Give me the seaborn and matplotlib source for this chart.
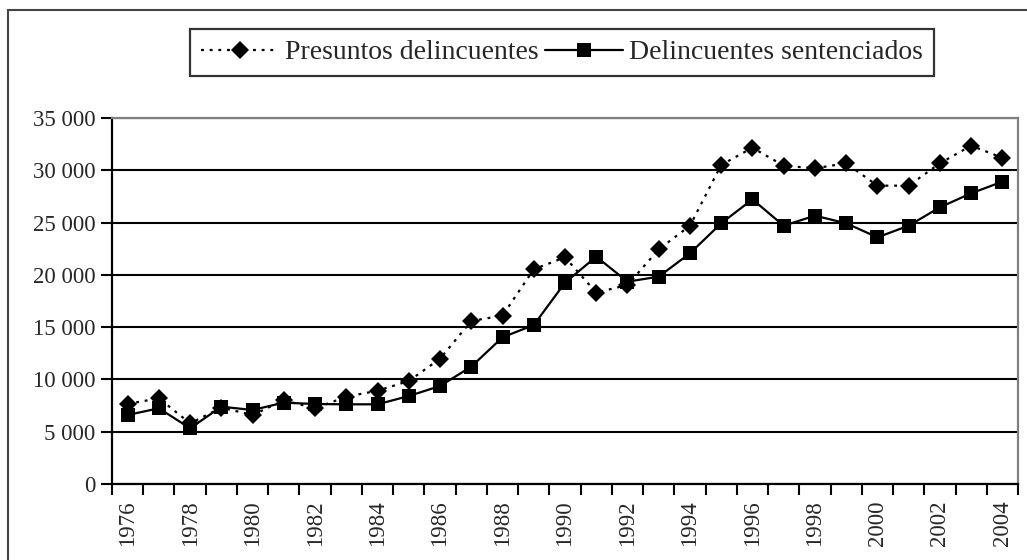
import matplotlib
matplotlib.use("Agg")
import matplotlib.pyplot as plt
from matplotlib.patches import Rectangle
from matplotlib.ticker import FuncFormatter, MultipleLocator
import seaborn as sns
import pandas as pd

years = list(range(1976, 2005))
presuntos = [7650, 8200, 5800, 7300, 6600, 8000, 7240, 8350, 8920, 9850,
             11980, 15590, 16100, 20530, 21680, 18300, 19030, 22440, 24700, 30510,
             32160, 30440, 30190, 30670, 28530, 28530, 30670, 32350, 31200]
sentenciados = [6600, 7240, 5330, 7390, 7080, 7780, 7650, 7620, 7620, 8415,
                9370, 11220, 14030, 15200, 19250, 21740, 19350, 19830, 22060, 24930,
                27220, 24700, 25660, 24930, 23590, 24700, 26460, 27800, 28910]
series_names = ["Presuntos delincuentes", "Delincuentes sentenciados"]

df = pd.DataFrame({"year": years + years,
                   "value": presuntos + sentenciados,
                   "serie": [series_names[0]] * len(years) + [series_names[1]] * len(years)})

sns.set_theme(style="white")
plt.rcParams["font.family"] = ["Liberation Serif", "DejaVu Serif"]

fig = plt.figure(figsize=(10.27, 5.6), dpi=100)
ax = fig.add_axes([112 / 1027, 1 - 484 / 560, (1018 - 112) / 1027, (484 - 118) / 560])

# outer frame of the chart
fig.patches.append(Rectangle((8 / 1027, -0.1), 1.2, 1 - 10 / 560 + 0.1, transform=fig.transFigure,
                             fill=False, edgecolor="#444444", linewidth=1.5, zorder=0))

dot_style = (1.3, 2.6)
sns.lineplot(data=df, x="year", y="value", hue="serie", style="serie",
             palette=["black", "black"],
             dashes={series_names[0]: dot_style, series_names[1]: ""},
             markers={series_names[0]: "D", series_names[1]: "s"},
             markersize=10.5, linewidth=1.6, markeredgewidth=0,
             ax=ax, legend=False)
lines = ax.get_lines()
lines[0].set_markersize(9.5)

ax.set_xlim(1975.5, 2004.5)
ax.set_ylim(0, 35000)
ax.yaxis.set_major_locator(MultipleLocator(5000))
ax.yaxis.set_major_formatter(FuncFormatter(lambda v, p: f"{int(v):,}".replace(",", " ")))
ax.grid(axis="y", color="black", linewidth=1.5)
ax.set_axisbelow(True)

ax.set_xticks(years[::2])
ax.set_xticklabels([str(y) for y in years[::2]], rotation=90)
ax.set_xticks([y + 0.5 for y in [1975] + years], minor=True)
ax.tick_params(axis="x", which="major", length=0, pad=12, labelsize=16.5)
ax.tick_params(axis="x", which="minor", length=8, width=1.5, color="black", direction="out", bottom=True)
ax.tick_params(axis="y", length=8, width=1.5, color="black", direction="out", left=True, labelsize=16.5, pad=4)
ax.set_xlabel("")
ax.set_ylabel("")

for side in ["left", "bottom"]:
    ax.spines[side].set_color("black")
    ax.spines[side].set_linewidth(1.6)
for side in ["top", "right"]:
    ax.spines[side].set_color("#808080")
    ax.spines[side].set_linewidth(1.6)

handles = [plt.Line2D([], [], color="black", linestyle=(0, dot_style), linewidth=1.6,
                      marker="D", markersize=9, markeredgewidth=0),
           plt.Line2D([], [], color="black", linestyle="-", linewidth=1.6,
                      marker="s", markersize=10, markeredgewidth=0)]
leg = fig.legend(handles, series_names, loc="center", bbox_to_anchor=(562 / 1027, 1 - 52.5 / 560),
                 ncol=2, fontsize=20, frameon=True, fancybox=False, edgecolor="black",
                 handlelength=2.8, columnspacing=0.25, handletextpad=0.2, borderpad=0.4,
                 borderaxespad=0)
leg.get_frame().set_linewidth(1.6)

fig.savefig("out.png", dpi=100, facecolor="white")
